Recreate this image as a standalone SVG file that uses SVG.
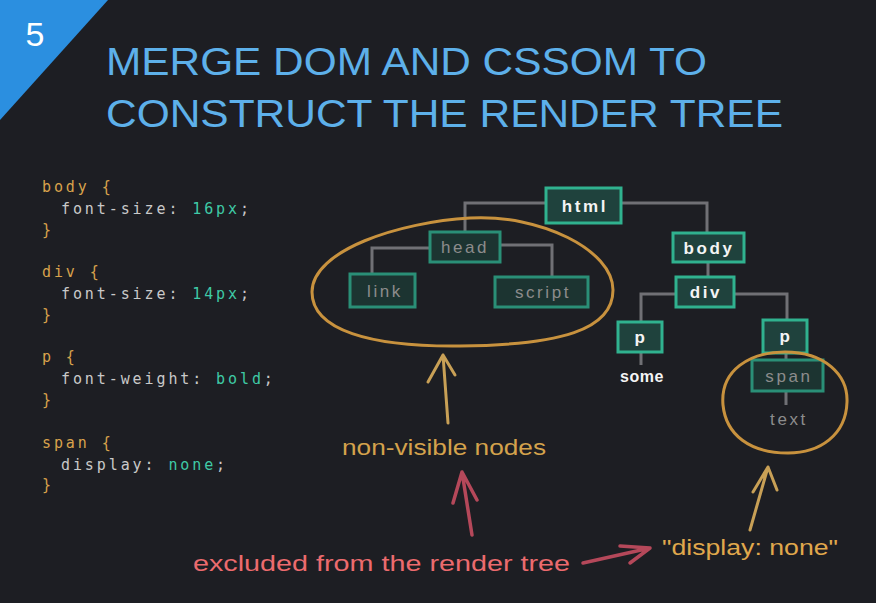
<svg xmlns="http://www.w3.org/2000/svg" width="876" height="603" viewBox="0 0 876 603">
<defs>
<style>
.code{font-family:"DejaVu Sans Mono","Liberation Mono",monospace;font-size:15px;letter-spacing:2.9px;}
.sel{fill:#d8a24c;}
.prop{fill:#c9c9c9;}
.val{fill:#3fcaa6;}
.title{font-family:"Liberation Sans",Arial,sans-serif;font-size:39px;fill:#5db0ea;}
.box{fill:#1f423d;stroke:#30b28f;stroke-width:3;}
.dbox{fill:#1c3431;stroke:#2a8f77;stroke-width:3;}
.nt{font-family:"Liberation Sans",Arial,sans-serif;font-size:17px;font-weight:bold;fill:#f4f4f4;letter-spacing:2.6px;text-anchor:middle;}
.dt{font-family:"Liberation Sans",Arial,sans-serif;font-size:17px;fill:#8c8c8c;letter-spacing:2.6px;text-anchor:middle;}
.conn{fill:none;stroke:#707075;stroke-width:3;}
.oval{fill:none;stroke:#c8923e;stroke-width:3;}
.oarr{fill:none;stroke:#c8a056;stroke-width:3;stroke-linecap:round;stroke-linejoin:round;}
.rarr{fill:none;stroke:#b5485a;stroke-width:3.5;stroke-linecap:round;stroke-linejoin:round;}
.lbl{font-family:"Liberation Sans",Arial,sans-serif;font-size:22px;}
</style>
</defs>
<rect width="876" height="603" fill="#1d1e23"/>
<polygon points="0,0 108,0 0,120" fill="#2b8fe0"/>
<text x="35" y="46" font-family="Liberation Sans,Arial,sans-serif" font-size="34" fill="#ffffff" text-anchor="middle">5</text>
<text class="title" x="106" y="75" textLength="601" lengthAdjust="spacingAndGlyphs">MERGE DOM AND CSSOM TO</text>
<text class="title" x="106" y="127" textLength="677" lengthAdjust="spacingAndGlyphs">CONSTRUCT THE RENDER TREE</text>

<g id="css" class="code">
<text x="42" y="192" class="sel">body {</text>
<text x="61" y="214"><tspan class="prop">font-size:</tspan><tspan class="val"> 16px</tspan><tspan class="prop">;</tspan></text>
<text x="42" y="235" class="sel">}</text>
<text x="42" y="277" class="sel">div {</text>
<text x="61" y="299"><tspan class="prop">font-size:</tspan><tspan class="val"> 14px</tspan><tspan class="prop">;</tspan></text>
<text x="42" y="320" class="sel">}</text>
<text x="42" y="362" class="sel">p {</text>
<text x="61" y="384"><tspan class="prop">font-weight:</tspan><tspan class="val"> bold</tspan><tspan class="prop">;</tspan></text>
<text x="42" y="405" class="sel">}</text>
<text x="42" y="448" class="sel">span {</text>
<text x="61" y="470"><tspan class="prop">display:</tspan><tspan class="val"> none</tspan><tspan class="prop">;</tspan></text>
<text x="42" y="490" class="sel">}</text>
</g>

<g id="connectors">
<path class="conn" d="M546 203 H465 V232"/>
<path class="conn" d="M621 203 H707 V233"/>
<path class="conn" d="M430 248 H372 V273"/>
<path class="conn" d="M500 245 H552 V277"/>
<path class="conn" d="M708 262 V276"/>
<path class="conn" d="M676 294 H641 V322"/>
<path class="conn" d="M734 294 H787 V320"/>
<path class="conn" d="M641 352 V365"/>
<path class="conn" d="M786 353 V360"/>
<path class="conn" d="M786 391 V405"/>
</g>

<g id="node-html"><rect class="box" x="546" y="188" width="75" height="35"/><text class="nt" x="585" y="212">html</text></g>
<g id="node-head"><rect class="dbox" x="430" y="232" width="70" height="30"/><text class="dt" x="465" y="253">head</text></g>
<g id="node-link"><rect class="dbox" x="350" y="274" width="65" height="33"/><text class="dt" x="385" y="297">link</text></g>
<g id="node-script"><rect class="dbox" x="495" y="277" width="93" height="30"/><text class="dt" x="543" y="298">script</text></g>
<g id="node-body"><rect class="box" x="673" y="233" width="71" height="29"/><text class="nt" x="709" y="254">body</text></g>
<g id="node-div"><rect class="box" x="676" y="277" width="58" height="30"/><text class="nt" x="706" y="298">div</text></g>
<g id="node-p1"><rect class="box" x="618" y="322" width="44" height="30"/><text class="nt" x="641" y="343">p</text></g>
<g id="node-p2"><rect class="box" x="763" y="320" width="44" height="33"/><text class="nt" x="786" y="342">p</text></g>
<g id="node-span"><rect class="dbox" x="752" y="360" width="71" height="31"/><text class="dt" x="789" y="382">span</text></g>
<g id="node-some"><text class="nt" x="642" y="382" style="letter-spacing:0.5px;font-size:16px">some</text></g>
<g id="node-text"><text class="dt" x="789" y="425">text</text></g>

<g id="highlights">
<path class="oval" d="M312 292 C312 250 400 222 470 218 C540 214 613 250 613 290 C613 330 560 345 460 346 C370 347 312 330 312 292 Z"/>
<path class="oval" d="M723 405 C720 370 750 352 785 352 C825 352 848 375 847 402 C846 435 820 453 788 453 C750 453 726 435 723 405 Z"/>
<path class="oarr" d="M448 423 L443 355 M428 382 L443 355 L455 375"/>
<path class="oarr" d="M750 530 L768 467 M753 492 L768 467 L777 490"/>
<path class="rarr" d="M472 535 L462 472 M453 503 L462 472 L477 500"/>
<path class="rarr" d="M583 563 L650 548 M620 546 L650 548 L630 563"/>
</g>

<text class="lbl" x="342" y="455" fill="#d4a24c" textLength="204" lengthAdjust="spacingAndGlyphs">non-visible nodes</text>
<text class="lbl" x="193" y="571" fill="#ec6b6e" textLength="377" lengthAdjust="spacingAndGlyphs">excluded from the render tree</text>
<text class="lbl" x="662" y="555" fill="#e0a84c" textLength="176" lengthAdjust="spacingAndGlyphs">"display: none"</text>
</svg>
